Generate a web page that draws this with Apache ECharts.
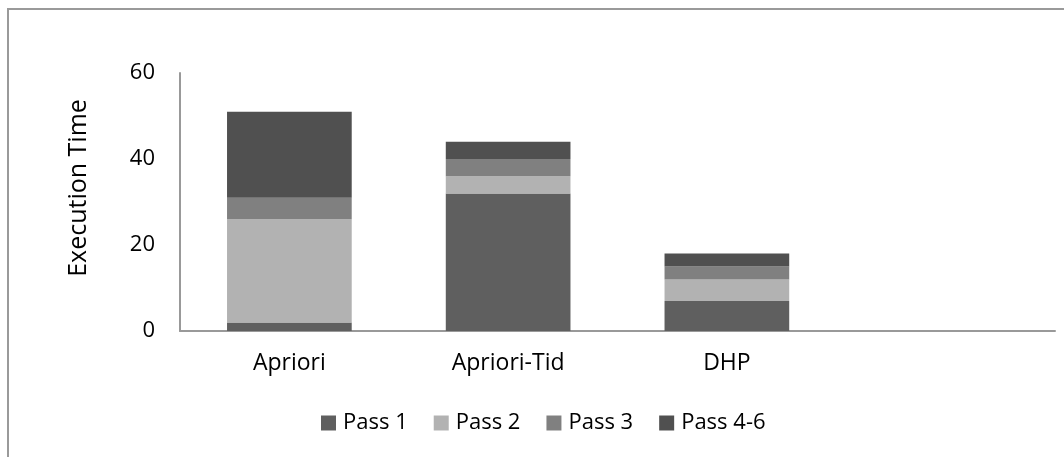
<!DOCTYPE html>
<html>
<head>
<meta charset="utf-8">
<script src="https://cdn.jsdelivr.net/npm/echarts@6/dist/echarts.min.js"></script>
<style>
html,body{margin:0;padding:0;background:#fff;}
#chart{width:1064px;height:457px;}
</style>
</head>
<body>
<div id="chart"></div>
<script>
const categories = ['Apriori', 'Apriori-Tid', 'DHP', ''];
const seriesNames = ['Pass 1', 'Pass 2', 'Pass 3', 'Pass 4-6'];
const pass1 = [2, 32, 7, null];
const pass2 = [24, 4, 5, null];
const pass3 = [5, 4, 3, null];
const pass46 = [20, 4, 3, null];
const yTicks = { min: 0, max: 60, interval: 20 };
const colors = ['#5f5f5f', '#b2b2b2', '#808080', '#505050'];

const font = 'Open Sans';
const chart = echarts.init(document.getElementById('chart'));
const values = [pass1, pass2, pass3, pass46];
chart.setOption({
  animation: false,
  backgroundColor: '#fff',
  color: colors,
  textStyle: { fontFamily: font },
  graphic: [{
    type: 'rect', silent: true,
    shape: { x: 8, y: 9, width: 1100, height: 500 },
    style: { fill: 'none', stroke: '#9a9a9a', lineWidth: 2 }
  }],
  grid: { left: 180, right: 9, top: 73, bottom: 126, containLabel: false },
  legend: {
    left: 316, top: 407,
    icon: 'rect', itemWidth: 15, itemHeight: 15, itemGap: 26,
    textStyle: { fontFamily: font, fontSize: 22, color: '#000', padding: [0, 0, 0, 2] },
    data: seriesNames
  },
  xAxis: {
    type: 'category', data: categories,
    axisLine: { lineStyle: { color: '#999', width: 2 } },
    axisTick: { show: false },
    axisLabel: { color: '#000', fontSize: 23, fontFamily: font, margin: 21 }
  },
  yAxis: {
    type: 'value', min: yTicks.min, max: yTicks.max, interval: yTicks.interval,
    name: 'Execution Time', nameLocation: 'middle', nameGap: 89,
    nameTextStyle: { color: '#000', fontSize: 25, fontFamily: font, padding: [0, 0, 0, 28] },
    axisLine: { show: true, lineStyle: { color: '#999', width: 2 } },
    axisTick: { show: false },
    splitLine: { show: false },
    axisLabel: { color: '#000', fontSize: 22, fontFamily: font, margin: 25 }
  },
  series: seriesNames.map((n, i) => ({
    name: n, type: 'bar', stack: 'total',
    barCategoryGap: '43%',
    data: values[i],
    itemStyle: { color: colors[i] }
  }))
});
</script>
</body>
</html>
